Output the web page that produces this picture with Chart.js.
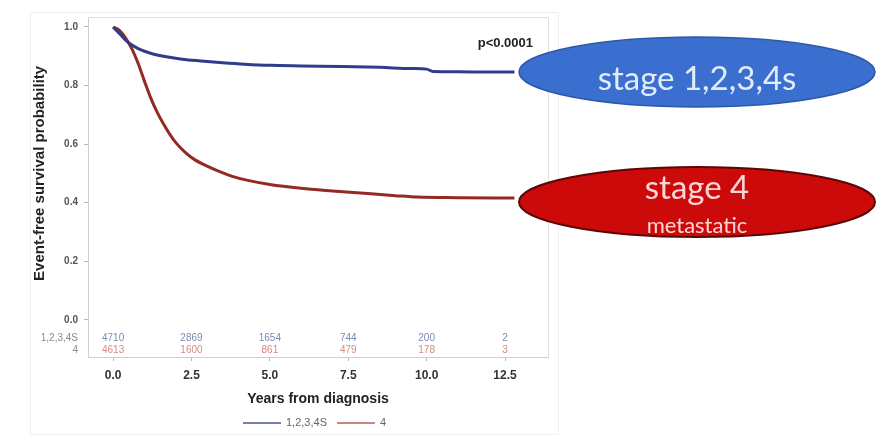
<!DOCTYPE html>
<html>
<head>
<meta charset="utf-8">
<script src="https://cdn.jsdelivr.net/npm/chart.js@4.4.1/dist/chart.umd.min.js"></script>
<style>
  html, body { margin: 0; padding: 0; background: #ffffff; }
  #wrap { width: 876px; height: 440px; position: relative; }
</style>
</head>
<body>
<div id="wrap"><canvas id="km" width="876" height="440"></canvas></div>
<script>
// Kaplan-Meier event-free survival by stage group
const seriesLabels = ['1,2,3,4S', '4'];

const localYears = [0, 0.2, 0.4, 0.6, 0.8, 1.0, 1.3, 1.7, 2.2, 2.8, 3.5, 4.2, 5.0, 6.0, 7.3, 8.5, 9.5, 10.0, 10.2, 11.0, 12.0, 12.8];
const localSurvival = [1.0, 0.978, 0.955, 0.938, 0.926, 0.917, 0.907, 0.898, 0.89, 0.884, 0.878, 0.873, 0.869, 0.867, 0.865, 0.862, 0.858, 0.856, 0.848, 0.847, 0.846, 0.846];

const metaYears = [0, 0.2, 0.4, 0.6, 0.8, 1.0, 1.2, 1.4, 1.6, 1.8, 2.0, 2.3, 2.6, 3.0, 3.4, 3.8, 4.3, 5.0, 6.0, 7.0, 8.0, 9.0, 9.7, 11.0, 12.8];
const metaSurvival = [1.0, 0.988, 0.962, 0.925, 0.875, 0.815, 0.758, 0.71, 0.67, 0.635, 0.605, 0.572, 0.547, 0.525, 0.506, 0.49, 0.476, 0.462, 0.449, 0.44, 0.432, 0.424, 0.419, 0.417, 0.416];

const xTickValues = [0, 2.5, 5, 7.5, 10, 12.5];
const yTickValues = [0, 0.2, 0.4, 0.6, 0.8, 1.0];

// numbers at risk under each x tick
const atRiskLocal = ['4710', '2869', '1654', '744', '200', '2'];
const atRiskMeta = ['4613', '1600', '861', '479', '178', '3'];

const pValueLabel = 'p<0.0001';
const xAxisTitle = 'Years from diagnosis';
const yAxisTitle = 'Event-free survival probability';
const calloutLocal = ['stage 1,2,3,4s'];
const calloutMeta = ['stage 4', 'metastatic'];

const toPoints = (xs, ys) => xs.map((x, i) => ({ x: x, y: ys[i] }));

const LOCAL_COLOR = '#2f3b8c';
const META_COLOR = '#932a24';
const SANS = '"Liberation Sans", Arial, sans-serif';
const CALLOUT_FONT = 'Lato, "Open Sans", sans-serif';

const overlay = {
  id: 'kmOverlay',
  beforeDatasetsDraw(chart) {
    const { ctx, chartArea: a } = chart;
    ctx.save();
    // faint outer panel frame
    ctx.strokeStyle = '#efefef';
    ctx.lineWidth = 1;
    ctx.strokeRect(30.5, 12.5, 528, 422);
    // top and right edges of the plot frame
    ctx.strokeStyle = '#e2e2e2';
    ctx.beginPath();
    ctx.moveTo(a.left, a.top + 0.5);
    ctx.lineTo(a.right + 0.5, a.top + 0.5);
    ctx.lineTo(a.right + 0.5, a.bottom);
    ctx.stroke();
    ctx.restore();
  },
  afterDraw(chart) {
    const { ctx, chartArea: a, scales: { x, y } } = chart;
    ctx.save();

    // at-risk table inside the plot frame
    const rowY1 = y.getPixelForValue(-0.062);
    const rowY2 = y.getPixelForValue(-0.103);
    ctx.font = '10px ' + SANS;
    ctx.textBaseline = 'middle';
    ctx.textAlign = 'right';
    ctx.fillStyle = '#8a8a8a';
    ctx.fillText(seriesLabels[0], a.left - 10, rowY1);
    ctx.fillText(seriesLabels[1], a.left - 10, rowY2);
    ctx.textAlign = 'center';
    xTickValues.forEach((v, i) => {
      const px = x.getPixelForValue(v);
      ctx.fillStyle = '#7d88b4';
      ctx.fillText(atRiskLocal[i], px, rowY1);
      ctx.fillStyle = '#d68a86';
      ctx.fillText(atRiskMeta[i], px, rowY2);
    });

    // p-value
    ctx.font = 'bold 13px ' + SANS;
    ctx.fillStyle = '#222';
    ctx.textAlign = 'right';
    ctx.fillText(pValueLabel, a.right - 15, a.top + 26);

    // axis titles
    ctx.fillStyle = '#222';
    ctx.textAlign = 'center';
    const midX = (a.left + a.right) / 2;
    ctx.font = 'bold 14px ' + SANS;
    ctx.fillText(xAxisTitle, midX, 399);
    ctx.save();
    const midY = (y.getPixelForValue(0) + y.getPixelForValue(1)) / 2;
    ctx.translate(40, midY);
    ctx.rotate(-Math.PI / 2);
    ctx.font = 'bold 15px ' + SANS;
    ctx.fillText(yAxisTitle, 0, 0);
    ctx.restore();

    // legend
    const ly = 423;
    ctx.font = '11px ' + SANS;
    ctx.textAlign = 'left';
    let lx = 243;
    chart.data.datasets.forEach((ds, i) => {
      ctx.strokeStyle = i === 0 ? '#4a5590' : '#b5605a';
      ctx.lineWidth = 1.5;
      ctx.beginPath();
      ctx.moveTo(lx, ly);
      ctx.lineTo(lx + 38, ly);
      ctx.stroke();
      ctx.fillStyle = '#666';
      ctx.fillText(ds.label, lx + 43, ly);
      lx += 43 + ctx.measureText(ds.label).width + 10;
    });

    // callout ellipses at the end of each curve
    const ex = 697, rx = 178, ry = 35;
    const lastLocal = y.getPixelForValue(localSurvival[localSurvival.length - 1]);
    const lastMeta = y.getPixelForValue(metaSurvival[metaSurvival.length - 1]) + 4;

    ctx.beginPath();
    ctx.ellipse(ex, lastLocal, rx, ry, 0, 0, Math.PI * 2);
    ctx.fillStyle = '#3a6fd0';
    ctx.fill();
    ctx.lineWidth = 1.5;
    ctx.strokeStyle = '#2d58a8';
    ctx.stroke();
    ctx.textAlign = 'center';
    ctx.textBaseline = 'alphabetic';
    ctx.font = '33px ' + CALLOUT_FONT;
    ctx.fillStyle = '#e4ecfa';
    ctx.fillText(calloutLocal[0], ex, lastLocal + 18);

    ctx.beginPath();
    ctx.ellipse(ex, lastMeta, rx, ry, 0, 0, Math.PI * 2);
    ctx.fillStyle = '#cc0a0a';
    ctx.fill();
    ctx.lineWidth = 2;
    ctx.strokeStyle = '#5e0606';
    ctx.stroke();
    ctx.fillStyle = '#ffd6d6';
    ctx.font = '33px ' + CALLOUT_FONT;
    ctx.fillText(calloutMeta[0], ex, lastMeta - 3);
    ctx.font = '22px ' + CALLOUT_FONT;
    ctx.fillText(calloutMeta[1], ex, lastMeta + 31);

    ctx.restore();
  }
};

new Chart(document.getElementById('km'), {
  type: 'line',
  data: {
    datasets: [
      {
        label: seriesLabels[0],
        data: toPoints(localYears, localSurvival),
        borderColor: LOCAL_COLOR,
        borderWidth: 3,
        pointRadius: 0,
        cubicInterpolationMode: 'monotone',
        fill: false
      },
      {
        label: seriesLabels[1],
        data: toPoints(metaYears, metaSurvival),
        borderColor: META_COLOR,
        borderWidth: 3,
        pointRadius: 0,
        cubicInterpolationMode: 'monotone',
        fill: false
      }
    ]
  },
  options: {
    responsive: false,
    animation: false,
    devicePixelRatio: 1,
    layout: { padding: { left: 0, top: 17, right: 328, bottom: 0 } },
    plugins: {
      legend: { display: false },
      tooltip: { enabled: false },
      title: { display: false }
    },
    scales: {
      x: {
        type: 'linear',
        min: -0.8,
        max: 13.87,
        afterBuildTicks: s => { s.ticks = xTickValues.map(v => ({ value: v })); },
        afterFit: s => { s.height = 83; },
        ticks: {
          callback: v => Number(v).toFixed(1),
          font: { family: SANS, size: 12, weight: 'bold' },
          color: '#333',
          padding: 7,
          maxRotation: 0,
          autoSkip: false
        },
        grid: { drawOnChartArea: false, drawTicks: true, tickLength: 4, color: '#b8b8b8' },
        border: { display: true, color: '#cfcfcf' }
      },
      y: {
        type: 'linear',
        min: -0.127,
        max: 1.034,
        afterBuildTicks: s => { s.ticks = yTickValues.map(v => ({ value: v })); },
        afterFit: s => { s.width = 88; },
        ticks: {
          callback: v => Number(v).toFixed(1),
          font: { family: SANS, size: 10, weight: 'bold' },
          color: '#555',
          padding: 6
        },
        grid: { drawOnChartArea: false, drawTicks: true, tickLength: 4, color: '#b8b8b8' },
        border: { display: true, color: '#cfcfcf' }
      }
    }
  },
  plugins: [overlay]
});
</script>
</body>
</html>
